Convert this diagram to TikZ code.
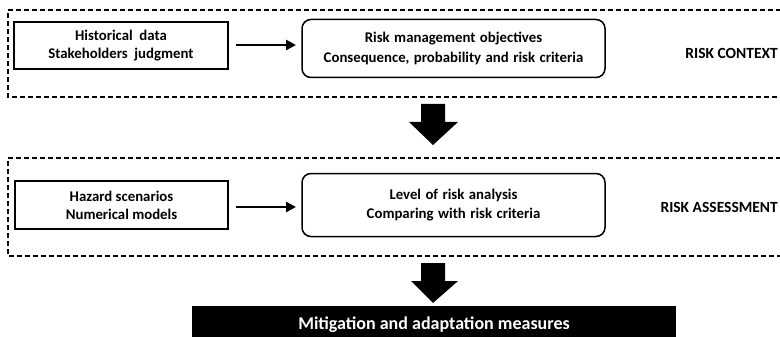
\documentclass[tikz,border=0pt]{standalone}
\usepackage{fontspec}
\setmainfont{Carlito}
\usetikzlibrary{arrows.meta}
\newcommand\myWideSpace{\spaceskip=0.3em\relax}
\begin{document}
\begin{tikzpicture}[x=1pt,y=-1pt,
  frame/.style={draw=black,line width=1.4pt,dash pattern=on 5pt off 3pt},
  plainbox/.style={draw=black,line width=1.5pt,rectangle,inner sep=0pt,align=center,
    font=\bfseries\fontsize{14.8}{18}\selectfont},
  roundbox/.style={draw=black,line width=1.5pt,rectangle,rounded corners=9pt,inner sep=0pt,align=center,
    font=\bfseries\fontsize{14.8}{19.5}\selectfont\myWideSpace},
  thinarrow/.style={line width=2.6pt,-{Triangle[length=10pt,width=10pt]}},
  blockarrow/.style={fill=black,draw=none},
  sectionlabel/.style={anchor=base east,inner sep=0pt,font=\bfseries\fontsize{15.5}{18}\selectfont}]
\useasboundingbox (0,0) rectangle (780,337);
% frames
\draw[frame] (781,10) -- (8,10) -- (8,97) -- (781,97);
\draw[frame] (781,158) -- (8,158) -- (8,256) -- (781,256);
% risk context
\node[plainbox,minimum width=214pt,minimum height=47pt] (hist) at (121,45.5)
  {Historical\ \ data\\Stakeholders\ \ judgment};
\node[roundbox,minimum width=303pt,minimum height=58pt] (obj) at (453.5,48.5)
  {Risk management objectives\\Consequence, probability and risk criteria};
\draw[thinarrow] (236,45) -- (296,45);
\node[sectionlabel] (ctx) at (778,59) {RISK CONTEXT};
% big arrow 1
\fill[blockarrow] (421,104) -- (445,104) -- (445,122) -- (458,122) -- (433,145) -- (409,122) -- (421,122) -- cycle;
% risk assessment
\node[plainbox,minimum width=213pt,minimum height=48pt] (haz) at (121.5,205)
  {Hazard scenarios\\Numerical models};
\node[roundbox,minimum width=303pt,minimum height=63pt] (lvl) at (453.5,205)
  {Level of risk analysis\\Comparing with risk criteria};
\draw[thinarrow] (236,207) -- (296,207);
\node[sectionlabel] (ass) at (778,212) {RISK ASSESSMENT};
% big arrow 2
\fill[blockarrow] (421,263) -- (445,263) -- (445,281) -- (458,281) -- (433,303) -- (411,281) -- (421,281) -- cycle;
% mitigation
\node[fill=black,rectangle,minimum width=484pt,minimum height=40pt,inner sep=0pt] (mit) at (434,326) {};
\node[text=white,anchor=base,font=\bfseries\fontsize{18}{20}\selectfont,inner sep=0pt] (mittext) at (434,329) {Mitigation and adaptation measures};
\end{tikzpicture}
\end{document}
